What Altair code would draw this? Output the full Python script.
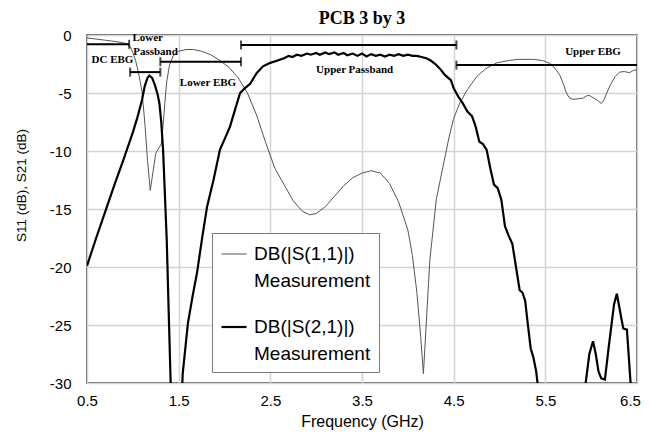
import altair as alt
import pandas as pd

# ---------------- data ----------------
series_names = ["DB(|S(1,1)|) Measurement", "DB(|S(2,1)|) Measurement"]

s11_points = [
    (0.50, -0.25), (0.60, -0.35), (0.70, -0.45), (0.80, -0.55), (0.88, -0.65),
    (0.93, -0.75), (0.97, -1.0), (1.00, -1.5), (1.03, -2.2), (1.06, -3.2),
    (1.08, -4.0), (1.10, -4.9), (1.13, -7.5), (1.16, -10.8), (1.19, -13.4),
    (1.22, -11.8), (1.25, -10.2), (1.28, -9.8), (1.31, -9.4), (1.33, -7.8),
    (1.35, -5.8), (1.37, -4.0), (1.40, -2.6), (1.44, -1.8), (1.50, -1.4),
    (1.58, -1.25), (1.66, -1.25), (1.75, -1.4), (1.85, -1.7), (1.95, -2.2),
    (2.05, -2.8), (2.15, -3.7), (2.25, -5.0), (2.35, -6.9), (2.45, -9.3),
    (2.55, -11.5), (2.65, -12.9), (2.75, -14.3), (2.85, -15.2), (2.93, -15.5),
    (3.00, -15.4), (3.10, -14.8), (3.20, -13.9), (3.30, -13.0), (3.40, -12.3),
    (3.50, -11.9), (3.60, -11.7), (3.70, -11.9), (3.80, -12.8), (3.90, -14.4),
    (4.00, -16.8), (4.05, -19.0), (4.10, -22.3), (4.14, -26.0), (4.17, -29.2),
    (4.20, -25.0), (4.24, -19.4), (4.31, -14.2), (4.39, -11.1), (4.45, -8.8),
    (4.50, -7.2), (4.57, -5.8), (4.65, -4.7), (4.75, -3.6), (4.85, -2.9),
    (4.97, -2.4), (5.10, -2.2), (5.20, -2.1), (5.37, -2.1), (5.47, -2.2),
    (5.55, -2.45), (5.62, -3.0), (5.66, -3.5), (5.70, -4.3), (5.73, -5.0),
    (5.76, -5.4), (5.80, -5.55), (5.86, -5.5), (5.91, -5.45), (5.96, -5.2),
    (5.99, -5.25), (6.03, -5.45), (6.07, -5.65), (6.11, -5.9), (6.14, -5.6),
    (6.17, -5.0), (6.21, -4.3), (6.26, -3.6), (6.31, -3.2), (6.36, -3.15),
    (6.42, -3.25), (6.46, -3.05), (6.50, -3.0),
]

s21_points = [
    (0.50, -19.9), (0.60, -17.5), (0.70, -15.2), (0.80, -12.9), (0.90, -10.7),
    (1.00, -8.4), (1.05, -7.1), (1.10, -5.6), (1.13, -4.4), (1.16, -3.7),
    (1.18, -3.5), (1.21, -3.7), (1.24, -4.3), (1.27, -5.1), (1.29, -5.9),
    (1.31, -7.5), (1.33, -9.9), (1.35, -13.8), (1.37, -17.7), (1.39, -23.5),
    (1.41, -29.2), (1.43, -35.0), (1.48, -40.0), (1.52, -34.0), (1.544, -29.2),
    (1.60, -24.9), (1.65, -22.6), (1.70, -20.5), (1.76, -17.3), (1.81, -14.8),
    (1.88, -12.5), (1.95, -9.9), (2.00, -9.0), (2.06, -7.9), (2.12, -6.3),
    (2.17, -5.0), (2.22, -4.6), (2.28, -4.2), (2.35, -3.3), (2.42, -2.7),
    (2.50, -2.4), (2.58, -2.2), (2.65, -2.0), (2.70, -1.8), (2.74, -1.9),
    (2.79, -1.7), (2.84, -1.8), (2.90, -1.6), (2.94, -1.7), (3.00, -1.55),
    (3.04, -1.7), (3.10, -1.5), (3.14, -1.65), (3.20, -1.5), (3.24, -1.7),
    (3.30, -1.55), (3.34, -1.75), (3.40, -1.6), (3.45, -1.8), (3.50, -1.6),
    (3.55, -1.85), (3.60, -1.65), (3.65, -1.8), (3.70, -1.7), (3.75, -1.85),
    (3.80, -1.7), (3.85, -1.8), (3.90, -1.65), (3.95, -1.8), (4.00, -1.7),
    (4.05, -1.8), (4.10, -1.8), (4.15, -1.9), (4.20, -2.0), (4.25, -2.2),
    (4.30, -2.5), (4.35, -2.9), (4.40, -3.4), (4.44, -3.7), (4.47, -3.9),
    (4.50, -4.6), (4.55, -5.3), (4.60, -5.9), (4.65, -6.6), (4.70, -7.0),
    (4.74, -7.9), (4.78, -9.2), (4.82, -9.4), (4.86, -9.9), (4.90, -11.5),
    (4.94, -12.9), (4.98, -13.2), (5.02, -14.2), (5.06, -16.5), (5.10, -17.3),
    (5.14, -18.0), (5.18, -20.0), (5.22, -22.0), (5.25, -22.2), (5.28, -22.9),
    (5.31, -25.0), (5.34, -27.0), (5.37, -27.8), (5.40, -29.0), (5.43, -31.0),
    (5.50, -36.0), (5.90, -36.0), (5.94, -30.0), (5.98, -27.5), (6.02, -26.4),
    (6.05, -27.5), (6.08, -29.0), (6.11, -29.6), (6.15, -29.7), (6.19, -27.0),
    (6.22, -25.1), (6.25, -23.2), (6.28, -22.3), (6.31, -23.6), (6.35, -25.3),
    (6.39, -25.4), (6.43, -30.0), (6.46, -34.0), (6.50, -34.0),
]

band_start = [0.5, 0.97, 1.30, 2.18, 4.53]
band_end = [0.96, 1.30, 2.18, 4.53, 6.5]
band_level = [-0.8, -3.2, -2.3, -0.86, -2.59]

end_tick_x = [0.96, 0.97, 1.30, 1.30, 2.18, 2.18, 4.53, 4.53]
end_tick_y = [-0.8, -3.2, -3.2, -2.3, -2.3, -0.86, -0.86, -2.59]

note_text = ["DC EBG", "Lower", "Passband", "Lower EBG", "Upper Passband", "Upper EBG"]
note_x = [0.778, 1.162, 1.247, 1.82, 3.42, 6.02]
note_y = [-2.16, -0.28, -1.44, -4.16, -3.02, -1.47]

x_ticks = [0.5, 1.5, 2.5, 3.5, 4.5, 5.5, 6.5]
y_ticks = [0, -5, -10, -15, -20, -25, -30]

# ---------------- tables ----------------
curves = pd.concat([
    pd.DataFrame({"freq": [p[0] for p in s11_points], "db": [p[1] for p in s11_points],
                  "series": series_names[0]}),
    pd.DataFrame({"freq": [p[0] for p in s21_points], "db": [p[1] for p in s21_points],
                  "series": series_names[1]}),
], ignore_index=True)
curves["idx"] = range(len(curves))

bands = pd.DataFrame({"freq": band_start, "freq2": band_end, "db": band_level})
ends = pd.DataFrame({"freq": end_tick_x, "db": end_tick_y})
notes = pd.DataFrame({"freq": note_x, "db": note_y, "text": note_text})

xscale = alt.Scale(domain=[0.5, 6.5], nice=False, zero=False)
yscale = alt.Scale(domain=[-30, 0], nice=False, zero=False)

X = alt.X("freq:Q", scale=xscale,
          axis=alt.Axis(values=x_ticks, format=".1f", title="Frequency (GHz)",
                        labelPadding=10, titlePadding=5, titleFontSize=16,
                        labelFlush=False,
                        labelOffset={"condition": {"test": "datum.value >= 6.5",
                                                   "value": -7},
                                     "value": 0}))
Y = alt.Y("db:Q", scale=yscale,
          axis=alt.Axis(values=y_ticks, labelExpr="'' + datum.value",
                        title="S11 (dB), S21 (dB)", labelPadding=16, titlePadding=21,
                        titleFontSize=13.5, titleY=150, labelFlush=False))

legend_args = dict(title=None, orient="none", legendX=125, legendY=198,
                   labelExpr="split(datum.label, ' ')",
                   labelFont="Liberation Sans", labelFontSize=19,
                   labelColor="#000000", labelOffset=6,
                   symbolType="stroke", symbolSize=625,
                   padding=8, rowPadding=22,
                   fillColor="white", strokeColor="#7a7a7a",
                   labelLimit=300)

lines = alt.Chart(curves).mark_line(clip=True).encode(
    x=X, y=Y,
    order="idx:Q",
    color=alt.Color("series:N",
                    scale=alt.Scale(domain=series_names, range=["#555555", "#000000"]),
                    legend=alt.Legend(**legend_args)),
    strokeWidth=alt.StrokeWidth("series:N",
                                scale=alt.Scale(domain=series_names, range=[1.0, 2.2]),
                                legend=alt.Legend(**legend_args)),
)

band_rules = alt.Chart(bands).mark_rule(color="black", strokeWidth=2).encode(
    x=X, x2="freq2:Q", y=Y)

band_ends = alt.Chart(ends).mark_tick(orient="vertical", size=9, thickness=2,
                                      color="black").encode(x=X, y=Y)

band_notes = alt.Chart(notes).mark_text(font="Liberation Serif", fontWeight="bold",
                                        fontSize=11, color="black",
                                        align="center", baseline="middle").encode(
    x=X, y=Y, text="text:N")

chart = alt.layer(lines, band_rules, band_ends, band_notes).properties(
    width=550, height=348,
    autosize=alt.AutoSizeParams(type="none"),
    padding={"left": 79, "top": 27, "right": 4, "bottom": 55},
    title=alt.Title("PCB 3 by 3", font="Liberation Serif", fontSize=18,
                    fontWeight="bold", color="black", anchor="middle", offset=0),
).configure(
    style={"guide-label": {"lineHeight": 27}}
).configure_view(
    stroke="#333333", strokeWidth=1.5
).configure_axis(
    domain=False, ticks=False,
    grid=True, gridColor="#d4d4d4", gridWidth=1.5,
    labelFont="Liberation Sans", labelFontSize=15, labelColor="#000000",
    titleFont="Liberation Sans", titleFontWeight="normal",
    titleColor="#000000",
)

chart.save("out.html", embed_options={"renderer": "svg", "actions": False})
